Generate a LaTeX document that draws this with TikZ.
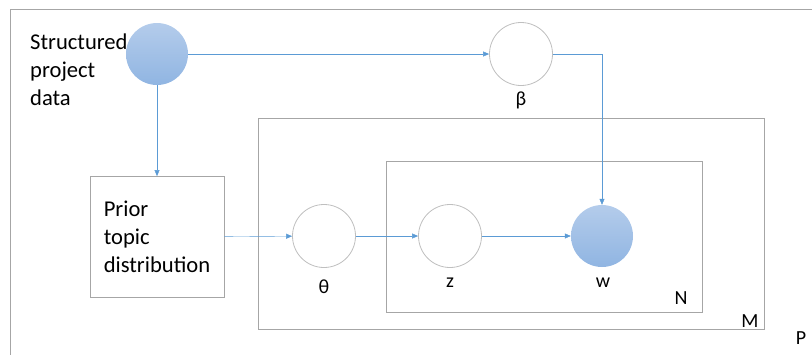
\documentclass[tikz,border=0pt]{standalone}
\usepackage{fontspec}
\setmainfont{Carlito}
\usetikzlibrary{arrows.meta}
\definecolor{lineblue}{HTML}{5B9BD5}
\definecolor{framegray}{HTML}{A6A6A6}
\definecolor{circgray}{HTML}{BFBFBF}
\definecolor{topblue}{HTML}{B4CCEB}
\definecolor{botblue}{HTML}{90B5E2}
\tikzset{
  latent/.style={circle,draw=circgray,thick,minimum size=63pt,inner sep=0pt},
  observed/.style={circle,top color=topblue,bottom color=botblue,draw=none,minimum size=62pt,inner sep=0pt},
  plate/.style={draw=framegray,thick},
  link/.style={draw=lineblue,-{Triangle[length=6pt,width=5pt]}},
  varlabel/.style={font=\fontsize{20}{24}\selectfont,inner sep=0pt},
}
\begin{document}
\begin{tikzpicture}[x=1pt,y=-1pt,font=\fontsize{22.6}{28}\selectfont]
\useasboundingbox (0,0) rectangle (812,354);
\clip (0,0) rectangle (812,354);
% plates
\draw[plate] (10,9) rectangle (840,380);
\draw[plate] (258,118) rectangle (764,329);
\draw[plate] (386,161) rectangle (702,312);
\node[varlabel] (plP) at (801,338) {P};
\node[varlabel] (plM) at (750,321) {M};
\node[varlabel] (plN) at (681,298) {N};
% nodes
\node[observed] (data) at (157,54) {};
\node[anchor=west,align=left,inner sep=0pt] (datatext) at (30,70) {Structured\\project\\data};
\node[latent] (beta) at (521,54) {};
\node[varlabel] (betalabel) at (521,100) {β};
\node[draw=framegray,thick,minimum width=134pt,minimum height=121pt,align=left,inner xsep=12pt] (prior) at (157,237) {Prior\\topic\\distribution};
\node[latent] (theta) at (324,236) {};
\node[varlabel] (thetalabel) at (324,287) {θ};
\node[latent] (z) at (450,236) {};
\node[varlabel] (zlabel) at (450,283) {z};
\node[observed] (w) at (602,236) {};
\node[varlabel] (wlabel) at (603,283) {w};
% edges
\draw[link] (data) -- (beta);
\draw[link] (data) -- (prior);
\draw[link] (beta.east) -| (w.north);
\draw[link] (prior) -- (theta);
\draw[link] (theta) -- (z);
\draw[link] (z) -- (w);
\end{tikzpicture}
\end{document}
